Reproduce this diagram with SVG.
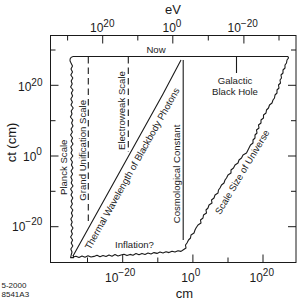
<svg xmlns="http://www.w3.org/2000/svg" width="298" height="301" viewBox="0 0 298 301">
<style>
text{font-family:"Liberation Sans",Arial,Helvetica,sans-serif;fill:#1a1a1a}
.lbl{font-size:9.6px}
.tk{font-size:12px}
.sup{font-size:10px}
.ttl{font-size:13px}
.sm{font-size:8px}
.ln{fill:none;stroke:#1a1a1a;stroke-width:1.1;stroke-linejoin:round}
.ax{fill:none;stroke:#1a1a1a;stroke-width:1}
.dash{stroke-dasharray:6.5 4}
.mid{text-anchor:middle}
</style>
<rect fill="#fff" width="298" height="301"/>
<g id="axes">
<rect class="ax" x="50.5" y="35.5" width="245.5" height="227"/>
<path class="ax" d="M102.7,35.5v8M172.8,35.5v8M243.9,35.5v8M67.6,35.5v5M137.8,35.5v5M208.3,35.5v5M279,35.5v5
M122.7,262.5v-8M192.9,262.5v-8M263,262.5v-8M87.5,262.5v-5M157.8,262.5v-5M228,262.5v-5
M50.5,85.3h8M50.5,156h8M50.5,226.7h8M50.5,50h5M50.5,120.7h5M50.5,191.3h5
M296,85.3h-8M296,156h-8M296,226.7h-8M296,50h-5M296,120.7h-5M296,191.3h-5"/>
<text class="ttl mid" x="173" y="13.5">eV</text>
<text class="tk" x="90" y="32">10<tspan class="sup" dy="-5.5">20</tspan></text>
<text class="tk" x="162.5" y="32">10<tspan class="sup" dy="-5.5">0</tspan></text>
<text class="tk" x="227.5" y="32">10<tspan class="sup" dy="-5.5">−20</tspan></text>
<text class="tk" x="105" y="281.5">10<tspan class="sup" dy="-5.5">−20</tspan></text>
<text class="tk" x="181.3" y="281.5">10<tspan class="sup" dy="-5.5">0</tspan></text>
<text class="tk" x="249.5" y="281.5">10<tspan class="sup" dy="-5.5">20</tspan></text>
<text class="ttl mid" x="184.5" y="297.5">cm</text>
<text class="tk" x="18" y="91">10<tspan class="sup" dy="-5.5">20</tspan></text>
<text class="tk" x="23" y="160.5">10<tspan class="sup" dy="-5.5">0</tspan></text>
<text class="tk" x="12" y="230.5">10<tspan class="sup" dy="-5.5">−20</tspan></text>
<text class="ttl mid" transform="translate(15.5,142.5) rotate(-90)">ct (cm)</text>
<text class="sm" x="1.5" y="288.3">5-2000</text>
<text class="sm" x="1.5" y="296.7">8541A3</text>
</g>
<g id="connectors">
<path id="now-line" class="ln" d="M73,56.5H288"/>
<path id="black-hole-tick" class="ln" d="M236.5,56.5V73"/>
<path id="planck" class="ln" d="M73,56.5C70,57 69,60 71,63L72.5,66 71,69 72.5,72 70.8,75 72.8,78 71.2,81 72.2,84 70.6,87 73,90 71.4,93 72.6,96 70.8,99 72.4,102 71,105 73.2,108 71.2,111 72,114 70.4,117 72.8,120 71.6,123 73,126 71,129 72.4,132 70.6,135 72.6,138 71.2,141 73,144 70.8,147 72.2,150 71,153 72.8,156 70.6,159 72.4,162 71.4,165 73,168 71,171 72.6,174 70.8,177 72.2,180 71.2,183 73,186 70.6,189 72.4,192 71,195 72.8,198 71.2,201 72.4,204 70.6,207 72.8,210 71.4,213 72.6,216 70.8,219 72.2,222 71,225 73,228 71.2,231 72.4,234 70.6,237 72.6,240 71.2,243 72.8,246 70.8,249 72,252 71.2,255 70.6,257.6 73.6,257.6 73.2,255"/>
<path id="inflation" class="ln" d="M73,257L76,256.2 79,257.5 82,256 85,257.2 88,255.8 91,257 94,256.4 97,255.2 100,256.8 103,255.6 106,256.6 109,255 112,256.2 115,254.6 118,256 121,255 124,254.2 127,255.6 130,254.4 133,255.2 136,253.6 139,254.8 142,253.4 145,254.4 148,253 151,254 154,252.6 157,253.4 160,252 163,253 166,251.8 169,252.6 172,251.2 175,252 178,250.8 181,251.4 183,250"/>
<path id="universe" class="ln" d="M183,250L186,248 185.5,245 187,243 188.5,240 190.5,238 191,235 194,233 195,230 196,228 198,225 201,223 200.5,220 203,218 203.5,215 206.5,213 206,210 208,208 209,205 212,203 211.5,200 214,198 215,195 218,193 218.5,190 220,188 221.5,185 224,183 225,180 226.5,178 228,175 231,173 231,170 233.5,168 235,165 238,163 239,160 241.5,158 243,155 246.5,153 248,150 249,148 250.5,145 253,143 253,140 255,138 255,135 257,133 256.5,130 259,128 258.5,125 261,123 261,120 263.5,118 263.5,115 266,113 266.5,110 268.5,108 269.5,105 272,103 273,100 274.5,98 275,95 277,93 277,90 279,88 278.5,85 280.5,83 280,80 281.5,78 281,75 283,73 283,70 285,68 285,65 286.5,63 287,60 288.5,58 288,56.5"/>
<path id="thermal" class="ln" d="M73,256L163,94Q172,77 181,60"/>
<path id="cosmological" class="ln" d="M183.2,60V240"/>
<path id="gut" class="ln dash" d="M88.3,57V222"/>
<path id="electroweak" class="ln dash" d="M128.3,57V152"/>
</g>
<g id="labels">
<text class="lbl mid" x="156" y="53">Now</text>
<text class="lbl mid" x="235" y="84">Galactic</text>
<text class="lbl mid" x="235" y="95">Black Hole</text>
<text class="lbl" x="115" y="248">Inflation?</text>
<text class="lbl" transform="translate(66.5,195) rotate(-90)">Planck Scale</text>
<text class="lbl" transform="translate(86,200.7) rotate(-90)">Grand Unification Scale</text>
<text class="lbl" transform="translate(125,150) rotate(-90)">Electroweak Scale</text>
<text class="lbl" transform="translate(180,223.3) rotate(-90)">Cosmological Constant</text>
<text class="lbl mid" transform="translate(135,170.2) rotate(-60.75)">Thermal Wavelength of Blackbody Photons</text>
<text class="lbl mid" transform="translate(245,173.8) rotate(-59)">Scale Size of Universe</text>
</g>
</svg>
